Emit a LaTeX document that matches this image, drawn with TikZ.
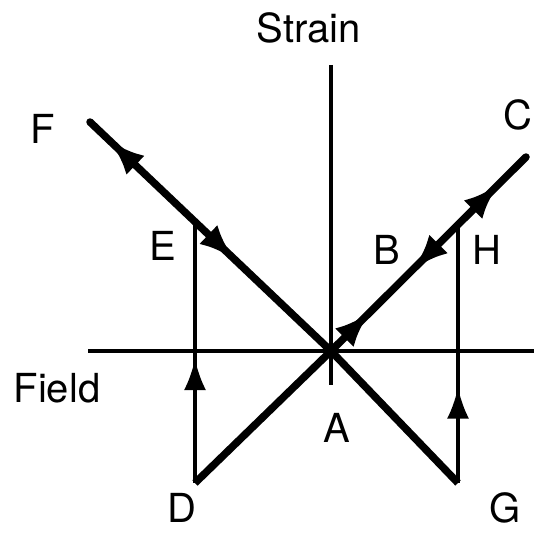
\documentclass[tikz,border=0pt]{standalone}
\usepackage{fontspec}
\setmainfont{TeX Gyre Heros}
\usetikzlibrary{arrows.meta,decorations.markings}
\tikzset{
  thickln/.style={line width=7.5pt},
  axisln/.style={line width=4.3pt},
  thinln/.style={line width=3.3pt},
  lbl/.style={font=\fontsize{40}{48}\selectfont, inner sep=0pt},
  tipA/.tip={Latex[length=36pt,width=26pt]},
  tipB/.tip={Latex[length=31pt,width=22pt]},
  arrowat/.style={postaction={decorate, decoration={markings,
      mark=at position #1 with {\arrow{tipA}}}}},
  arrowback/.style={postaction={decorate, decoration={markings,
      mark=at position #1 with {\arrowreversed{tipA}}}}},
  varrowat/.style={postaction={decorate, decoration={markings,
      mark=at position #1 with {\arrow{tipB}}}}}
}
\begin{document}
\begin{tikzpicture}[x=1pt,y=-1pt]
\useasboundingbox (0,0) rectangle (534,532);
% points
\coordinate (A) at (331,351);
\coordinate (F) at (90,122);
\coordinate (C) at (526,157);
\coordinate (D) at (195,483);
\coordinate (G) at (458,483);
\coordinate (E) at (195,222);
\coordinate (H) at (458,225);
\coordinate (xl) at (88,351);
\coordinate (xr) at (534,351);
\coordinate (yt) at (331,65);
\coordinate (yb) at (331,385);
% axes
\draw[axisln] (xl) -- (xr);
\draw[axisln] (yt) -- (yb);
% thin verticals
\draw[thinln, varrowat=0.475] (D) -- (E);
\draw[thinln, varrowat=0.37] (G) -- (H);
% thick lines
\draw[thickln, line cap=round, arrowback=0.08, arrowat=0.6] (F) -- (A);
\draw[thickln] (A) -- (G);
\draw[thickln] (D) -- (A);
\draw[thickln, line cap=round, arrowat=0.2, arrowback=0.42, arrowat=0.86] (A) -- (C);
% labels
\node[lbl] (lStrain) at (309,28) {Strain};
\node[lbl] (lF) at (43,129) {F};
\node[lbl] (lE) at (163,246) {E};
\node[lbl] (lB) at (387,250) {B};
\node[lbl] (lH) at (487,250) {H};
\node[lbl, anchor=east] (lC) at (533,115) {C};
\node[lbl] (lField) at (57,388) {Field};
\node[lbl] (lA) at (337,428) {A};
\node[lbl] (lD) at (182,508) {D};
\node[lbl] (lG) at (505,508) {G};
\end{tikzpicture}
\end{document}
